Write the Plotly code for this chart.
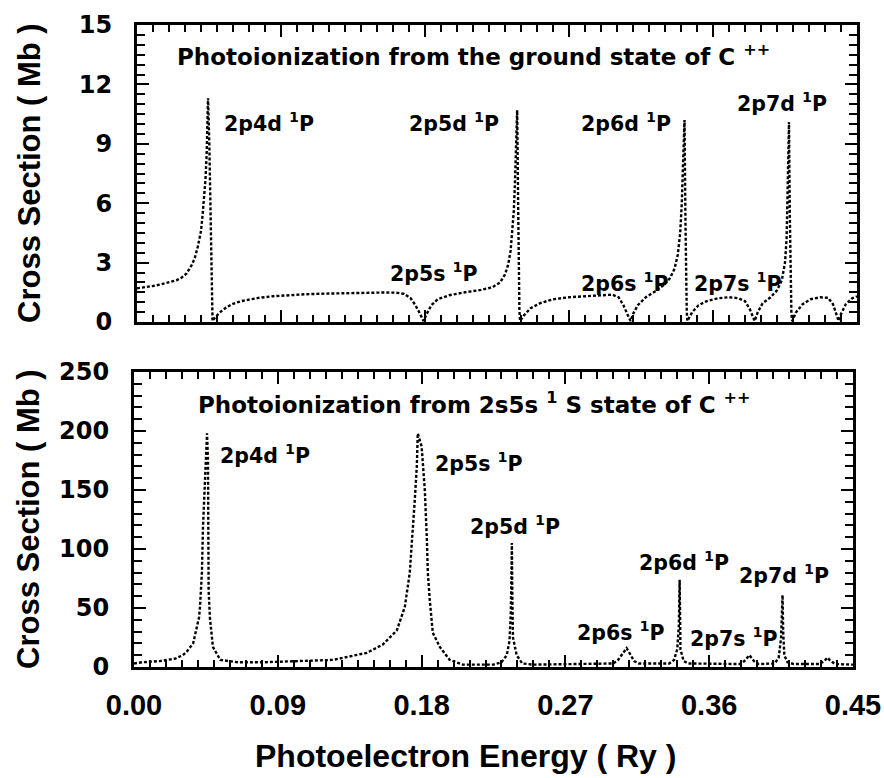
import plotly.graph_objects as go

# ---------------- data ----------------
# Top panel: photoionization from the ground state of C++ (Mb)
top_E = [0.000, 0.005, 0.010, 0.015, 0.020, 0.025, 0.028, 0.031, 0.034, 0.036,
         0.038, 0.040, 0.041, 0.042, 0.0428, 0.0435, 0.0440, 0.0444, 0.0452, 0.0458,
         0.0462, 0.0465, 0.0468, 0.0472, 0.049, 0.052, 0.056, 0.060, 0.065, 0.070,
         0.076, 0.085, 0.095, 0.105, 0.115, 0.125, 0.135, 0.145, 0.155, 0.162,
         0.167, 0.171, 0.174, 0.177, 0.179, 0.181, 0.184, 0.188, 0.195, 0.205,
         0.215, 0.222, 0.227, 0.230, 0.232, 0.2335, 0.2345, 0.2355, 0.2362, 0.2368,
         0.2372, 0.2376, 0.2382, 0.2386, 0.2390, 0.2394, 0.242, 0.246, 0.252, 0.260,
         0.270, 0.280, 0.290, 0.297, 0.301, 0.304, 0.307, 0.3085, 0.310, 0.313,
         0.318, 0.324, 0.329, 0.333, 0.336, 0.338, 0.3395, 0.3405, 0.3412, 0.3418,
         0.3422, 0.3428, 0.3432, 0.3436, 0.3440, 0.347, 0.351, 0.356, 0.363, 0.370,
         0.376, 0.380, 0.383, 0.385, 0.386, 0.388, 0.391, 0.396, 0.400, 0.403,
         0.405, 0.4060, 0.4065, 0.4070, 0.4075, 0.4080, 0.4085, 0.4090, 0.4095, 0.412,
         0.416, 0.421, 0.427, 0.432, 0.435, 0.437, 0.4385, 0.440, 0.443, 0.447,
         0.450]
top_S = [1.70, 1.75, 1.82, 1.90, 2.00, 2.12, 2.25, 2.45, 2.85, 3.2,
         3.8, 4.6, 5.4, 6.3, 7.2, 8.4, 9.7, 11.3, 9.0, 6.5,
         4.0, 2.0, 0.8, 0.05, 0.25, 0.5, 0.75, 0.92, 1.05, 1.14,
         1.22, 1.30, 1.36, 1.40, 1.43, 1.45, 1.47, 1.48, 1.49, 1.48,
         1.42, 1.2, 0.85, 0.4, 0.05, 0.4, 0.85, 1.15, 1.35, 1.50,
         1.62, 1.75, 2.0, 2.4, 2.9, 3.6, 4.5, 5.6, 7.0, 8.6,
         10.0, 10.7, 6.0, 2.5, 0.6, 0.05, 0.35, 0.7, 0.95, 1.15,
         1.25, 1.30, 1.35, 1.38, 1.25, 0.85, 0.3, 0.05, 0.4, 0.85,
         1.25, 1.55, 1.85, 2.2, 2.7, 3.4, 4.5, 6.0, 7.8, 9.2,
         10.2, 5.0, 1.8, 0.5, 0.05, 0.5, 0.85, 1.05, 1.2, 1.25,
         1.20, 1.05, 0.65, 0.2, 0.05, 0.5, 0.95, 1.25, 1.6, 2.1,
         3.0, 4.2, 6.0, 8.0, 10.1, 5.5, 1.8, 0.4, 0.05, 0.5,
         0.9, 1.15, 1.25, 1.22, 0.9, 0.35, 0.05, 0.4, 0.9, 1.2,
         1.3]

# Bottom panel: photoionization from the 2s5s 1S state of C++ (Mb)
bot_E = [0.000, 0.005, 0.016, 0.0256, 0.0306, 0.033, 0.037, 0.039, 0.0407, 0.0413,
         0.0425, 0.0432, 0.0444, 0.0457, 0.0463, 0.0465, 0.0467, 0.0475, 0.0494, 0.054,
         0.065, 0.080, 0.100, 0.1245, 0.1457, 0.1557, 0.1645, 0.1695, 0.1726, 0.1745,
         0.1757, 0.1770, 0.1776, 0.1800, 0.1820, 0.1833, 0.1839, 0.1851, 0.1870, 0.1914,
         0.1976, 0.2058, 0.225, 0.230, 0.2333, 0.235, 0.2358, 0.2362, 0.2365, 0.2368,
         0.2372, 0.2395, 0.243, 0.250, 0.275, 0.300, 0.303, 0.306, 0.3083, 0.3105,
         0.313, 0.316, 0.335, 0.338, 0.340, 0.341, 0.3413, 0.3415, 0.3418, 0.342,
         0.344, 0.347, 0.379, 0.382, 0.3852, 0.388, 0.391, 0.401, 0.4035, 0.405,
         0.4055, 0.4059, 0.4063, 0.407, 0.409, 0.413, 0.429, 0.432, 0.434, 0.436,
         0.439, 0.445, 0.450]
bot_S = [3, 4, 5, 7, 10, 13, 20, 31, 42, 51,
         80, 119, 164, 198, 175, 119, 65, 42, 17, 6,
         4, 4, 5, 6, 12, 19, 31, 51, 80, 113,
         141, 170, 198, 187, 150, 108, 80, 57, 29, 17,
         6, 2, 2, 4, 10, 22, 45, 75, 105, 60,
         25, 10, 3, 2, 2.5, 3, 6, 12, 16, 11,
         5, 3, 3, 6, 15, 35, 55, 74, 40, 15,
         5, 3, 2.5, 5, 10, 5, 2.5, 3, 8, 25,
         45, 61, 30, 10, 4, 2.5, 2.5, 5, 8, 5,
         2.5, 2, 2]

x_ticks = [0.00, 0.09, 0.18, 0.27, 0.36, 0.45]
x_tick_text = ["0.00", "0.09", "0.18", "0.27", "0.36", "0.45"]
top_y_ticks = [0, 3, 6, 9, 12, 15]
bot_y_ticks = [0, 50, 100, 150, 200, 250]

top_labels = [  # (text, E, sigma)
    ("2p4d <sup>1</sup>P", 0.053, 10.1),
    ("2p5d <sup>1</sup>P", 0.169, 10.1),
    ("2p6d <sup>1</sup>P", 0.276, 10.1),
    ("2p7d <sup>1</sup>P", 0.374, 11.1),
    ("2p5s <sup>1</sup>P", 0.157, 2.5),
    ("2p6s <sup>1</sup>P", 0.276, 2.0),
    ("2p7s <sup>1</sup>P", 0.347, 2.0),
]
bot_labels = [
    ("2p4d <sup>1</sup>P", 0.0525, 180),
    ("2p5s <sup>1</sup>P", 0.187, 173),
    ("2p5d <sup>1</sup>P", 0.209, 120),
    ("2p6s <sup>1</sup>P", 0.276, 30),
    ("2p6d <sup>1</sup>P", 0.3146, 89),
    ("2p7s <sup>1</sup>P", 0.347, 25),
    ("2p7d <sup>1</sup>P", 0.3777, 78),
]

# ---------------- figure ----------------
W, H = 884, 778
def fx(px):
    return px / W
def fy(py):
    return 1 - py / H

LBL_FONT = dict(family="DejaVu Sans", size=20.5, color="black", weight="bold")
TITLE_FONT = dict(family="DejaVu Sans", size=23, color="black", weight="bold")
TICK_FONT_Y = dict(family="DejaVu Sans", size=24, color="black", weight="bold")
TICK_FONT_X = dict(family="Liberation Sans", size=29, color="black", weight="bold")

fig = go.Figure()
line_style = dict(color="black", width=2.4, dash="3px,2px")
fig.add_trace(go.Scatter(x=top_E, y=top_S, mode="lines", line=line_style,
                         xaxis="x", yaxis="y", showlegend=False))
fig.add_trace(go.Scatter(x=bot_E, y=bot_S, mode="lines", line=line_style,
                         xaxis="x2", yaxis="y2", showlegend=False))

common_x = dict(range=[0, 0.45], tickvals=x_ticks, ticks="inside", ticklen=12, tickwidth=2,
                tickcolor="black", showline=True, linewidth=3, linecolor="black",
                mirror="allticks", showgrid=False, zeroline=False, automargin=False,
                minor=dict(dtick=0.01, tick0=0, ticks="inside", ticklen=7, tickwidth=2,
                           tickcolor="black", showgrid=False))
common_y = dict(ticks="inside", ticklen=12, tickwidth=2, tickcolor="black", showline=True,
                linewidth=3, linecolor="black", mirror="allticks", showgrid=False,
                zeroline=False, tickfont=TICK_FONT_Y, ticklabelstandoff=17, automargin=False)

fig.update_layout(
    width=W, height=H, margin=dict(l=0, r=0, t=0, b=0),
    paper_bgcolor="white", plot_bgcolor="white",
    xaxis=dict(common_x, domain=[fx(137), fx(857)], anchor="y", showticklabels=False),
    yaxis=dict(common_y, domain=[fy(322), fy(25)], anchor="x", range=[0, 15],
               tickvals=top_y_ticks,
               minor=dict(dtick=0.5, tick0=0, ticks="inside", ticklen=8, tickwidth=2,
                          tickcolor="black", showgrid=False)),
    xaxis2=dict(common_x, domain=[fx(134), fx(853)], anchor="y2", ticktext=x_tick_text,
                tickfont=TICK_FONT_X, ticklabelstandoff=10),
    yaxis2=dict(common_y, domain=[fy(667), fy(372)], anchor="x2", range=[0, 250],
                tickvals=bot_y_ticks,
                minor=dict(dtick=10, tick0=0, ticks="inside", ticklen=8, tickwidth=2,
                           tickcolor="black", showgrid=False)),
)

ann = []
ann.append(dict(text="Photoionization from the ground state of C <sup>++</sup>",
                x=0.024, y=13.5, xref="x", yref="y", xanchor="left", yanchor="middle",
                showarrow=False, font=TITLE_FONT))
ann.append(dict(text="Photoionization from 2s5s <sup>1</sup> S state of C <sup>++</sup>",
                x=0.039, y=224, xref="x2", yref="y2", xanchor="left", yanchor="middle",
                showarrow=False, font=TITLE_FONT))
for t, e, s in top_labels:
    ann.append(dict(text=t, x=e, y=s, xref="x", yref="y", xanchor="left", yanchor="middle",
                    showarrow=False, font=LBL_FONT))
for t, e, s in bot_labels:
    ann.append(dict(text=t, x=e, y=s, xref="x2", yref="y2", xanchor="left", yanchor="middle",
                    showarrow=False, font=LBL_FONT))

YT_FONT = dict(family="Liberation Sans", size=31, color="black", weight="bold")
ann.append(dict(text="Cross Section ( Mb )", x=fx(29), y=fy(173), xref="paper", yref="paper",
                textangle=-90, showarrow=False, font=YT_FONT, xanchor="center", yanchor="middle"))
ann.append(dict(text="Cross Section ( Mb )", x=fx(28), y=fy(519), xref="paper", yref="paper",
                textangle=-90, showarrow=False, font=YT_FONT, xanchor="center", yanchor="middle"))
ann.append(dict(text="Photoelectron Energy ( Ry )", x=fx(465), y=fy(756), xref="paper", yref="paper",
                showarrow=False, xanchor="center", yanchor="middle",
                font=dict(family="Liberation Sans", size=32, color="black", weight="bold")))
fig.update_layout(annotations=ann)

fig.write_html("out.html")
